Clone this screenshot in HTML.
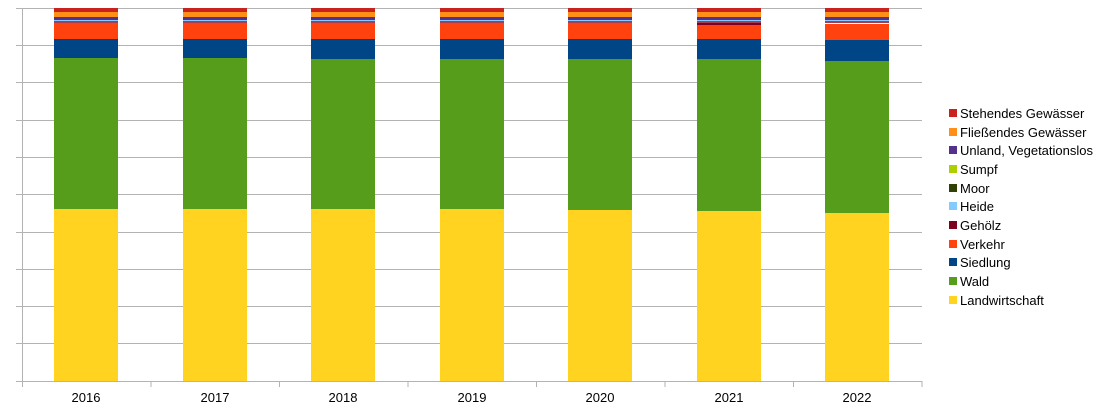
<!DOCTYPE html>
<html><head><style>body{margin:0;background:#fff}</style></head><body>
<svg width="1106" height="414" xmlns="http://www.w3.org/2000/svg" font-family="Liberation Sans, sans-serif">
<g stroke="#b3b3b3" stroke-width="1">
<line x1="16" y1="8.5" x2="922" y2="8.5"/>
<line x1="16" y1="45.5" x2="922" y2="45.5"/>
<line x1="16" y1="82.5" x2="922" y2="82.5"/>
<line x1="16" y1="120.5" x2="922" y2="120.5"/>
<line x1="16" y1="157.5" x2="922" y2="157.5"/>
<line x1="16" y1="194.5" x2="922" y2="194.5"/>
<line x1="16" y1="232.5" x2="922" y2="232.5"/>
<line x1="16" y1="269.5" x2="922" y2="269.5"/>
<line x1="16" y1="306.5" x2="922" y2="306.5"/>
<line x1="16" y1="343.5" x2="922" y2="343.5"/>
<line x1="16" y1="381.5" x2="922" y2="381.5"/>
<line x1="22.5" y1="8" x2="22.5" y2="387"/>
<line x1="151" y1="381" x2="151" y2="387"/>
<line x1="279.5" y1="381" x2="279.5" y2="387"/>
<line x1="408" y1="381" x2="408" y2="387"/>
<line x1="536.5" y1="381" x2="536.5" y2="387"/>
<line x1="665" y1="381" x2="665" y2="387"/>
<line x1="793.5" y1="381" x2="793.5" y2="387"/>
<line x1="922" y1="381" x2="922" y2="387"/>
</g>
<defs>
<g id="top">
<rect x="0" y="8" width="64" height="4" fill="#c9211e"/>
<rect x="0" y="12" width="64" height="5" fill="#ff8f17"/>
<rect x="0" y="17" width="64" height="3" fill="#55308d"/>
<rect x="0" y="20" width="64" height="1" fill="#83caff"/>
<rect x="0" y="21" width="64" height="2" fill="#a33e57"/>
</g>
</defs>
<g>
<use href="#top" x="54"/><rect x="54" y="23" width="64" height="16" fill="#ff420e"/><rect x="54" y="39" width="64" height="19" fill="#004586"/><rect x="54" y="58" width="64" height="151" fill="#579d1c"/><rect x="54" y="209" width="64" height="172" fill="#ffd320"/>
<use href="#top" x="183"/><rect x="183" y="23" width="64" height="16" fill="#ff420e"/><rect x="183" y="39" width="64" height="19" fill="#004586"/><rect x="183" y="58" width="64" height="151" fill="#579d1c"/><rect x="183" y="209" width="64" height="172" fill="#ffd320"/>
<use href="#top" x="311"/><rect x="311" y="23" width="64" height="16" fill="#ff420e"/><rect x="311" y="39" width="64" height="20" fill="#004586"/><rect x="311" y="59" width="64" height="150" fill="#579d1c"/><rect x="311" y="209" width="64" height="172" fill="#ffd320"/>
<use href="#top" x="440"/><rect x="440" y="23" width="64" height="16" fill="#ff420e"/><rect x="440" y="39" width="64" height="20" fill="#004586"/><rect x="440" y="59" width="64" height="150" fill="#579d1c"/><rect x="440" y="209" width="64" height="172" fill="#ffd320"/>
<use href="#top" x="568"/><rect x="568" y="23" width="64" height="16" fill="#ff420e"/><rect x="568" y="39" width="64" height="20" fill="#004586"/><rect x="568" y="59" width="64" height="151" fill="#579d1c"/><rect x="568" y="210" width="64" height="171" fill="#ffd320"/>
<use href="#top" x="697"/><rect x="697" y="23" width="64" height="2" fill="#7e0021"/><rect x="697" y="25" width="64" height="14" fill="#ff420e"/><rect x="697" y="39" width="64" height="20" fill="#004586"/><rect x="697" y="59" width="64" height="152" fill="#579d1c"/><rect x="697" y="211" width="64" height="170" fill="#ffd320"/>
<use href="#top" x="825"/><rect x="825" y="24" width="64" height="16" fill="#ff420e"/><rect x="825" y="40" width="64" height="21" fill="#004586"/><rect x="825" y="61" width="64" height="152" fill="#579d1c"/><rect x="825" y="213" width="64" height="168" fill="#ffd320"/>
</g>
<g font-size="13" fill="#000" text-anchor="middle">
<text x="86" y="402">2016</text><text x="215" y="402">2017</text><text x="343" y="402">2018</text><text x="472" y="402">2019</text><text x="600" y="402">2020</text><text x="729" y="402">2021</text><text x="857" y="402">2022</text>
</g>
<g font-size="13" fill="#000">
<rect x="949" y="109" width="8" height="8" fill="#c9211e"/><text x="960" y="118">Stehendes Gewässer</text>
<rect x="949" y="128" width="8" height="8" fill="#ff8f17"/><text x="960" y="137">Fließendes Gewässer</text>
<rect x="949" y="146" width="8" height="8" fill="#55308d"/><text x="960" y="155">Unland, Vegetationslos</text>
<rect x="949" y="165" width="8" height="8" fill="#aecf00"/><text x="960" y="174">Sumpf</text>
<rect x="949" y="184" width="8" height="8" fill="#314004"/><text x="960" y="193">Moor</text>
<rect x="949" y="202" width="8" height="8" fill="#83caff"/><text x="960" y="211">Heide</text>
<rect x="949" y="221" width="8" height="8" fill="#7e0021"/><text x="960" y="230">Gehölz</text>
<rect x="949" y="240" width="8" height="8" fill="#ff420e"/><text x="960" y="249">Verkehr</text>
<rect x="949" y="258" width="8" height="8" fill="#004586"/><text x="960" y="267">Siedlung</text>
<rect x="949" y="277" width="8" height="8" fill="#579d1c"/><text x="960" y="286">Wald</text>
<rect x="949" y="296" width="8" height="8" fill="#ffd320"/><text x="960" y="305">Landwirtschaft</text>
</g>
</svg>
</body></html>
